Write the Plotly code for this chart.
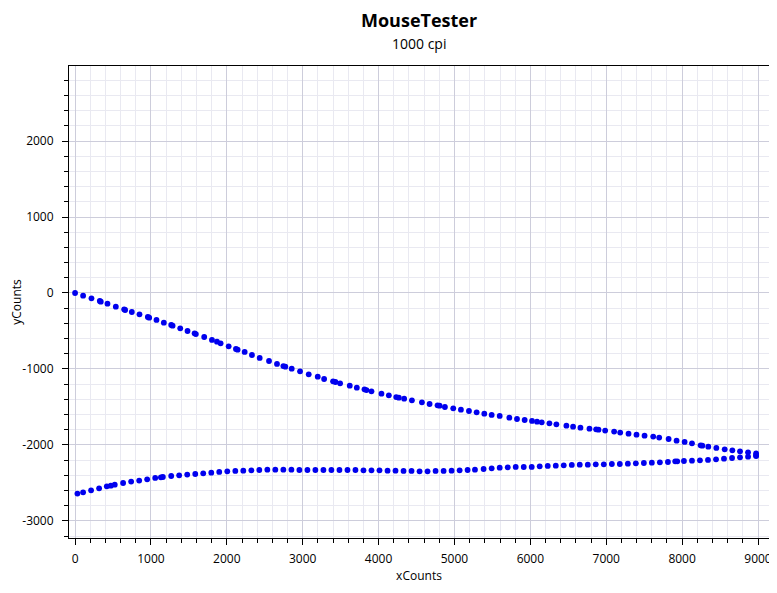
import plotly.graph_objects as go

# Outgoing stroke (upper curve)
upper_x = [0, 106, 216, 326, 339, 427, 537, 647, 660, 748, 849, 959, 977, 1073, 1170, 1267, 1285, 1386,
           1482, 1575, 1592, 1702, 1804, 1870, 1918, 2024, 2120, 2142, 2235, 2331, 2433, 2556, 2661, 2745,
           2771, 2855, 2965, 3079, 3198, 3282, 3400, 3431, 3493, 3620, 3713, 3814, 3840, 3906, 4038, 4135,
           4232, 4267, 4337, 4439, 4571, 4672, 4777, 4804, 4874, 4984, 5085, 5191, 5292, 5393, 5490, 5596,
           5723, 5824, 5925, 6022, 6088, 6150, 6251, 6343, 6475, 6563, 6660, 6779, 6867, 6898, 6986, 7104,
           7184, 7294, 7399, 7505, 7619, 7698, 7822, 7927, 8033, 8130, 8244, 8266, 8345, 8451, 8561, 8662,
           8763, 8869, 8975, 8975]
upper_y = [0, -35, -70, -105, -114, -140, -180, -215, -224, -250, -281, -316, -325, -355, -390, -421, -430,
           -465, -500, -531, -540, -579, -618, -640, -662, -702, -737, -746, -776, -816, -855, -895, -934,
           -961, -969, -996, -1031, -1070, -1101, -1132, -1162, -1171, -1189, -1219, -1246, -1268, -1277,
           -1294, -1325, -1347, -1369, -1377, -1390, -1412, -1439, -1461, -1478, -1483, -1500, -1518, -1535,
           -1553, -1570, -1588, -1605, -1618, -1640, -1658, -1671, -1684, -1693, -1702, -1715, -1728, -1746,
           -1759, -1772, -1785, -1794, -1798, -1811, -1824, -1837, -1851, -1864, -1877, -1890, -1903, -1921,
           -1943, -1960, -1978, -2004, -2009, -2022, -2039, -2057, -2070, -2083, -2096, -2110, -2136]

# Return stroke (lower curve)
lower_x = [31, 106, 211, 317, 418, 471, 523, 633, 739, 845, 950, 1056, 1131, 1157, 1267, 1372, 1478, 1584,
           1689, 1795, 1900, 2006, 2112, 2217, 2323, 2428, 2534, 2639, 2745, 2851, 2956, 3062, 3167, 3273,
           3378, 3484, 3590, 3695, 3801, 3906, 4012, 4118, 4223, 4329, 4434, 4540, 4645, 4751, 4857, 4962,
           5068, 5173, 5270, 5384, 5490, 5596, 5702, 5807, 5913, 6018, 6123, 6229, 6335, 6440, 6546, 6651,
           6757, 6862, 6968, 7074, 7179, 7285, 7390, 7496, 7601, 7707, 7813, 7909, 7936, 8024, 8130, 8235,
           8341, 8447, 8552, 8658, 8763, 8869, 8975]
lower_y = [-2640, -2623, -2597, -2570, -2544, -2535, -2522, -2500, -2482, -2469, -2452, -2434, -2425, -2421,
           -2408, -2399, -2390, -2382, -2373, -2364, -2355, -2346, -2342, -2338, -2333, -2329, -2325, -2325,
           -2325, -2325, -2329, -2329, -2329, -2329, -2329, -2329, -2329, -2329, -2333, -2333, -2333, -2338,
           -2338, -2342, -2342, -2346, -2346, -2342, -2342, -2338, -2333, -2329, -2325, -2316, -2307, -2298,
           -2294, -2289, -2290, -2289, -2281, -2276, -2272, -2268, -2263, -2259, -2259, -2254, -2254, -2250,
           -2250, -2246, -2241, -2237, -2233, -2228, -2224, -2215, -2215, -2211, -2206, -2202, -2197, -2189,
           -2180, -2171, -2162, -2154, -2145]

x_ticks = [0, 1000, 2000, 3000, 4000, 5000, 6000, 7000, 8000, 9000]
y_ticks = [-3000, -2000, -1000, 0, 1000, 2000]
x_tick_labels = [str(v) for v in x_ticks]
y_tick_labels = [str(v) for v in y_ticks]   # ASCII hyphen-minus as in the reference

title_text = "MouseTester"
subtitle_text = "1000 cpi"
x_title = "xCounts"
y_title = "yCounts"

xs = upper_x + lower_x[::-1]
ys = upper_y + lower_y[::-1]

FONT = "Open Sans"
MAJOR = "#cdcddb"
MINOR = "#e9e9f1"

fig = go.Figure()
fig.add_trace(go.Scatter(x=xs, y=ys, mode="markers",
                         marker=dict(color="#0000ee", size=5.8, line=dict(width=0)),
                         showlegend=False, hoverinfo="x+y"))

axis_common = dict(
    showline=True, linecolor="black", linewidth=1, mirror=True,
    ticks="outside", ticklen=6, tickcolor="black", tickwidth=1,
    showgrid=True, gridcolor=MAJOR, gridwidth=1, zeroline=False,
    automargin=False,
    tickfont=dict(family=FONT, size=12, color="black"),
    minor=dict(dtick=200, tick0=0, ticks="outside", ticklen=4, tickcolor="black",
               showgrid=True, gridcolor=MINOR, gridwidth=1),
)

fig.update_xaxes(**axis_common, range=[-80, 9145], ticklabelstandoff=4,
                 tickmode="array", tickvals=x_ticks, ticktext=x_tick_labels,
                 title=dict(text=x_title, font=dict(family=FONT, size=12, color="black"), standoff=5))
fig.update_yaxes(**axis_common, range=[-3224, 2987], ticklabelstandoff=6,
                 tickmode="array", tickvals=y_ticks, ticktext=y_tick_labels,
                 title=dict(text=y_title, font=dict(family=FONT, size=12, color="black"), standoff=9))

# The page body has an 8px margin, so the figure is shrunk by 8px and margins shifted.
fig.update_layout(
    width=769, height=585,
    margin=dict(l=61, r=8, t=58, b=55, autoexpand=False),
    plot_bgcolor="white", paper_bgcolor="white",
    font=dict(family=FONT, size=12, color="black"),
    annotations=[
        dict(text="<b>" + title_text + "</b>", x=0.5, y=1 + 46 / 472, xref="paper", yref="paper",
             showarrow=False, xanchor="center", yanchor="middle",
             font=dict(family=FONT, size=18, color="black")),
        dict(text=subtitle_text, x=0.5, y=1 + 22 / 472, xref="paper", yref="paper",
             showarrow=False, xanchor="center", yanchor="middle",
             font=dict(family=FONT, size=14, color="black")),
    ],
)

fig.write_html("out.html")
